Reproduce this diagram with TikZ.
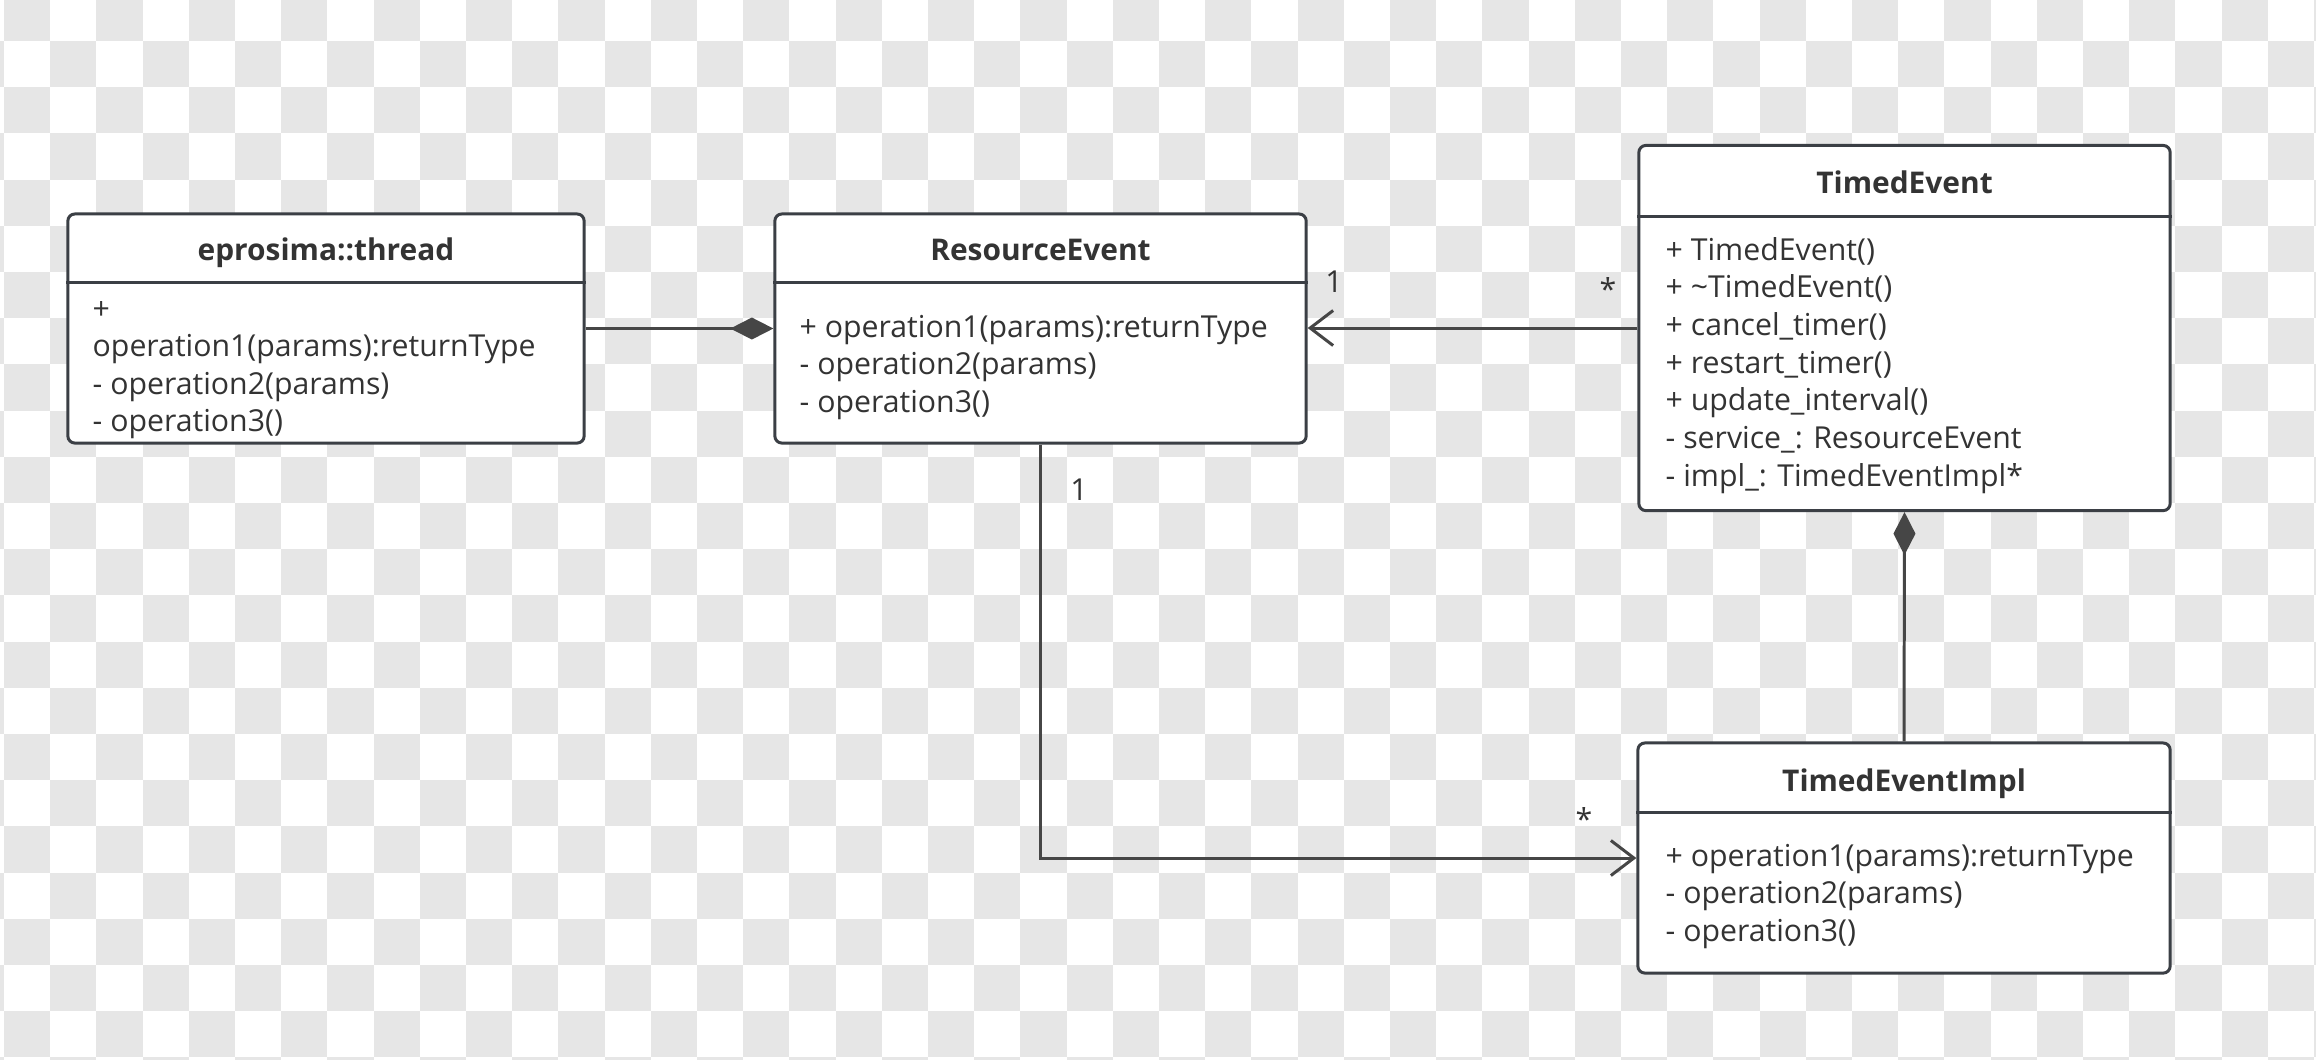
\documentclass[tikz,border=0pt]{standalone}
\usepackage{fontspec}
\setmainfont{Open Sans}
\usetikzlibrary{positioning, arrows.meta, calc}
\definecolor{boxLine}{HTML}{3B3F45}
\definecolor{wireGray}{HTML}{464646}
\definecolor{textGray}{HTML}{333333}
\definecolor{checkGray}{HTML}{E6E6E6}

\begin{document}
\begin{tikzpicture}[x=0.01cm, y=-0.01cm,
    classbox/.style={draw=boxLine, line width=0.85pt, fill=white, rounded corners=2pt, inner sep=0pt},
    divider/.style={draw=boxLine, line width=0.85pt},
    classname/.style={font=\bfseries\fontsize{8.5}{10}\selectfont, text=textGray, anchor=base, inner sep=0pt},
    member/.style={font=\fontsize{8.6}{10.7}\selectfont, text=textGray, anchor=base west, inner sep=0pt},
    mult/.style={font=\fontsize{8.6}{10.7}\selectfont, text=textGray, anchor=base, inner sep=0pt},
    wire/.style={draw=wireGray, line width=0.85pt},
    assoc/.style={-{Straight Barb[length=2.3mm, width=3.5mm]}},
    compose/.style={-{Diamond[length=4.3mm, width=2.2mm]}}]
  % transparent-look background
  \useasboundingbox (0,0) rectangle (2316,1059);
  \clip (0,0) rectangle (2316,1059);
  \fill[white] (0,0) rectangle (2316,1059);
  \foreach \j in {0,...,23}
    \foreach \k in {-1,...,25}
      \fill[checkGray] ({4+46.2*(2*\k+mod(\j,2))}, {-5.3+46.2*\j}) rectangle +(46.2,46.2);

  % classes
  \node[classbox, minimum width=5.16cm, minimum height=2.29cm] (thread) at (326,328.5) {};
  \node[classbox, minimum width=5.31cm, minimum height=2.29cm] (resource) at (1040.5,328.5) {};
  \node[classbox, minimum width=5.31cm, minimum height=3.65cm] (timed) at (1904.5,328) {};
  \node[classbox, minimum width=5.32cm, minimum height=2.30cm] (impl) at (1904,858) {};

  \draw[divider] (thread.west |- 0,282) -- (thread.east |- 0,282);
  \draw[divider] (resource.west |- 0,282) -- (resource.east |- 0,282);
  \draw[divider] (timed.west |- 0,216) -- (timed.east |- 0,216);
  \draw[divider] (impl.west |- 0,812) -- (impl.east |- 0,812);

  \node[classname] (thread-name) at (326,260) {eprosima::thread};
  \node[classname] (resource-name) at (1040.5,260) {ResourceEvent};
  \node[classname] (timed-name) at (1904.5,193) {TimedEvent};
  \node[classname] (impl-name) at (1904,791) {TimedEventImpl};

  \foreach \m [count=\k from 0] in {+, operation1(params):returnType, - operation2(params), - operation3()}
    \node[member] (thread-m\k) at (92,{319+37.5*\k}) {\m};
  \foreach \m [count=\k from 0] in {+ operation1(params):returnType, - operation2(params), - operation3()}
    \node[member] (resource-m\k) at (799,{337+37.5*\k}) {\m};
  \foreach \m [count=\k from 0] in {+ TimedEvent(), + {\textasciitilde}TimedEvent(), + cancel\_timer(),
      + restart\_timer(), + update\_interval(), - service\_: ResourceEvent, - impl\_: TimedEventImpl*}
    \node[member] (timed-m\k) at (1665,{260+37.7*\k}) {\m};
  \foreach \m [count=\k from 0] in {+ operation1(params):returnType, - operation2(params), - operation3()}
    \node[member] (impl-m\k) at (1665,{866+37.5*\k}) {\m};

  % relations
  \draw[wire, compose] (thread.east) -- (resource.west);
  \draw[wire, assoc] (timed.west) -- (timed.west -| resource.east);
  \draw[wire, assoc] (resource.south) |- (impl.west);
  \draw[wire, compose] (impl.north) -- (timed.south);

  \node[mult] (res-one) at (1334,292) {1};
  \node[mult] (timed-many) at (1608,300) {*};
  \node[mult] (res-one-low) at (1079,500) {1};
  \node[mult] (impl-many) at (1584,830) {*};
\end{tikzpicture}
\end{document}
